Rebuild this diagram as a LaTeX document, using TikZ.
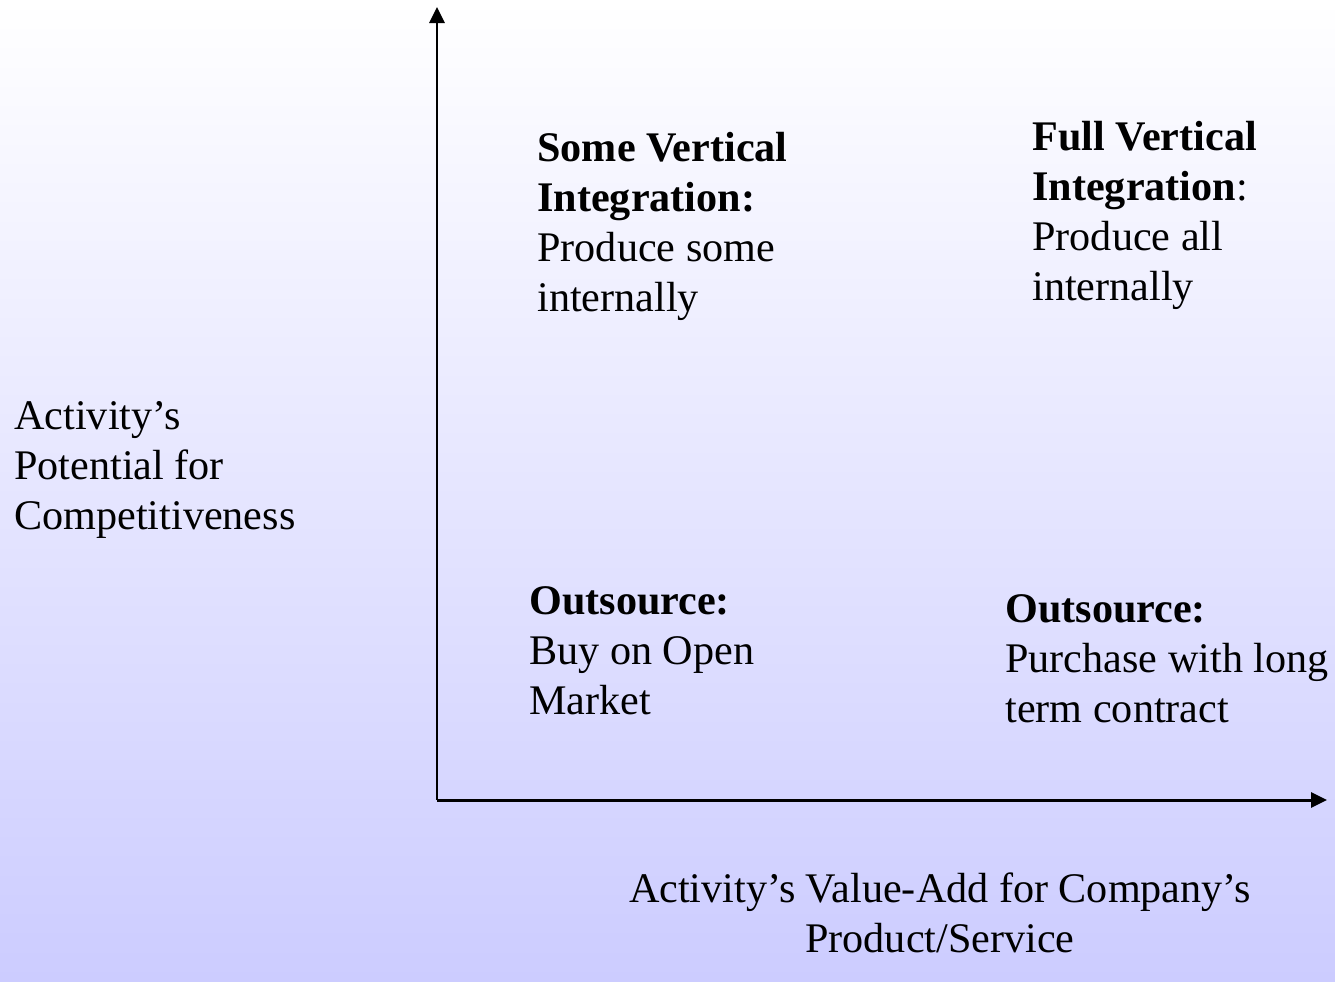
\documentclass[tikz,border=0pt]{standalone}
\usepackage{fontspec}
\setmainfont{Liberation Serif}
\usetikzlibrary{arrows.meta}

\begin{document}
\begin{tikzpicture}[x=0.02cm,y=-0.02cm]
        %
        % `quadrant' is used for the four text blocks.
        % `axis' is used for the two arrows.
        \tikzstyle{quadrant} = [anchor=north west,inner sep=0pt,align=left,font=\fontsize{24}{28.5}\selectfont]
        \tikzstyle{axis} = [line width=1.7pt,-{Triangle[length=0.32cm,width=0.3cm]}]
        %
        % Background
        \shade[top color=white,bottom color={rgb,255:red,204;green,204;blue,255}] (0,0) rectangle (1335,981);
        \useasboundingbox (0,0) rectangle (1335,981);
        %
        % Axes
        \coordinate (origin) at (437,800);
        \coordinate (ytip) at (437,7);
        \coordinate (xtip) at (1327,800);
        \draw[axis] (origin) -- (ytip);
        \draw[axis] (origin) -- (xtip);
        %
        % Axis labels
        \node[quadrant] (ylabel) at (14,401) {Activity’s\\Potential for\\Competitiveness};
        \node[quadrant,anchor=north,align=center] (xlabel) at (940,872)
        	{Activity’s Value-Add for Company’s\\Product/Service};
        %
        % Upper row
        \node[quadrant] (some) at (537,132) {\textbf{Some Vertical}\\\textbf{Integration:}\\Produce some\\internally};
        \node[quadrant] (full) at (1032,121) {\textbf{Full Vertical}\\\textbf{Integration}:\\Produce all\\internally};
        %
        % Lower row
        \node[quadrant] (open) at (529,586) {\textbf{Outsource:}\\Buy on Open\\Market};
        \node[quadrant] (contract) at (1005,594) {\textbf{Outsource:}\\Purchase with long\\term contract};
        %
\end{tikzpicture}
\end{document}
